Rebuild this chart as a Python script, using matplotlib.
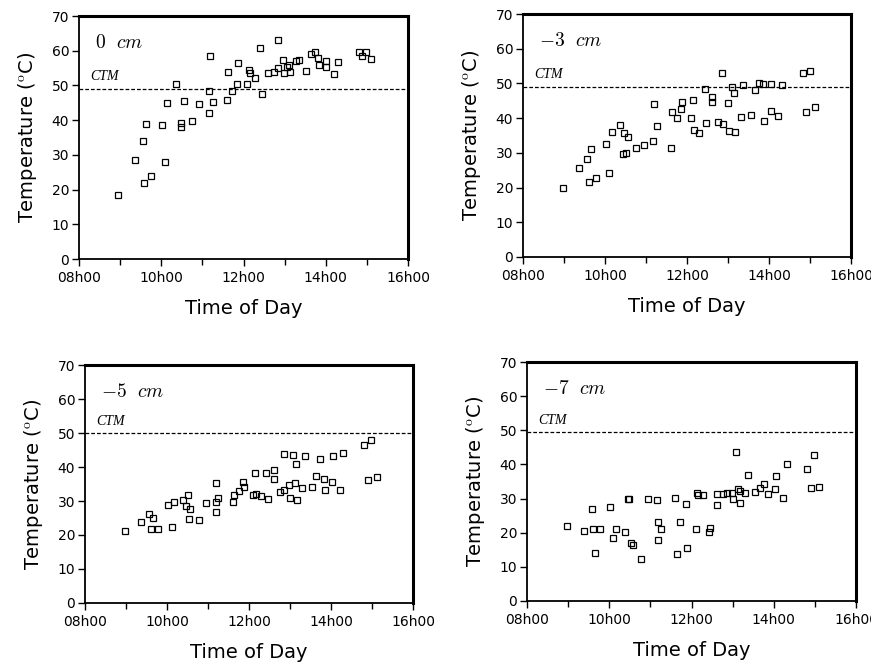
import matplotlib
matplotlib.use("Agg")
import matplotlib.pyplot as plt
from matplotlib.ticker import MultipleLocator

plt.rcParams['font.family'] = ['DejaVu Sans']
plt.rcParams['mathtext.fontset'] = 'cm'

# Tiefe 0 cm
t_0 = [8.96, 9.35, 9.55, 9.59, 9.63, 9.76, 10.02, 10.10, 10.14, 10.37, 10.47, 10.48,
       10.55, 10.75, 10.93, 11.16, 11.16, 11.18, 11.25, 11.59, 11.63, 11.73, 11.83, 11.86,
       12.08, 12.13, 12.15, 12.28, 12.40, 12.44, 12.59, 12.74, 12.83, 12.84, 12.96, 12.99,
       13.05, 13.11, 13.13, 13.27, 13.35, 13.52, 13.63, 13.74, 13.82, 13.84, 14.01, 14.01,
       14.20, 14.29, 14.80, 14.89, 14.97, 15.10]
T_0 = [18.4, 28.5, 34.1, 21.8, 38.8, 23.8, 38.5, 27.8, 44.9, 50.3, 39.3, 38.1,
       45.4, 39.7, 44.6, 42.1, 48.3, 58.4, 45.2, 45.7, 54.0, 48.4, 50.5, 56.5,
       50.3, 54.4, 53.6, 52.1, 60.7, 47.5, 53.7, 54.0, 63.2, 54.9, 57.4, 53.7,
       55.4, 55.9, 54.0, 57.1, 57.2, 54.1, 59.0, 59.6, 57.8, 55.9, 57.1, 55.4,
       53.4, 56.8, 59.5, 58.4, 59.5, 57.6]

# Tiefe -3 cm
t_3 = [8.98, 9.37, 9.57, 9.60, 9.65, 9.77, 10.03, 10.10, 10.16, 10.37, 10.45, 10.47,
       10.51, 10.56, 10.76, 10.94, 11.18, 11.19, 11.26, 11.61, 11.64, 11.75, 11.86, 11.88,
       12.09, 12.14, 12.17, 12.29, 12.43, 12.47, 12.62, 12.62, 12.76, 12.86, 12.87, 13.00,
       13.02, 13.10, 13.14, 13.17, 13.31, 13.37, 13.57, 13.66, 13.75, 13.86, 13.87, 14.04,
       14.06, 14.22, 14.32, 14.82, 14.90, 14.99, 15.11]
T_3 = [20.0, 25.6, 28.3, 21.6, 31.0, 22.7, 32.6, 24.3, 36.1, 37.9, 29.6, 35.6,
       30.1, 34.5, 31.4, 32.3, 33.4, 44.2, 37.6, 31.5, 41.9, 39.9, 42.6, 44.7,
       39.9, 45.2, 36.7, 35.6, 48.5, 38.6, 46.0, 44.6, 38.8, 53.0, 38.3, 44.4,
       36.2, 49.1, 47.3, 35.9, 40.2, 49.6, 41.0, 48.1, 50.1, 49.7, 39.3, 42.0,
       49.9, 40.7, 49.6, 52.9, 41.9, 53.6, 43.1]

# Tiefe -5 cm
t_5 = [8.97, 9.36, 9.56, 9.60, 9.66, 9.77, 10.03, 10.11, 10.18, 10.38, 10.46, 10.50,
       10.53, 10.56, 10.77, 10.94, 11.19, 11.19, 11.20, 11.25, 11.61, 11.63, 11.75, 11.86,
       11.88, 12.09, 12.14, 12.18, 12.29, 12.42, 12.46, 12.61, 12.61, 12.76, 12.85, 12.85,
       12.98, 13.01, 13.07, 13.11, 13.15, 13.16, 13.29, 13.36, 13.54, 13.64, 13.74, 13.84,
       13.85, 14.02, 14.04, 14.21, 14.30, 14.80, 14.90, 14.98, 15.11]
T_5 = [21.3, 23.7, 26.3, 21.7, 25.0, 21.7, 28.7, 22.4, 29.7, 30.3, 28.4, 31.7,
       24.7, 27.6, 24.5, 29.5, 26.7, 29.6, 35.2, 31.0, 29.7, 31.9, 33.0, 35.6,
       34.2, 31.8, 38.3, 32.0, 31.6, 38.1, 30.5, 39.1, 36.4, 32.6, 43.9, 33.1,
       34.7, 30.9, 43.5, 35.2, 40.9, 30.4, 33.9, 43.3, 34.2, 37.5, 42.3, 36.6,
       33.3, 35.7, 43.3, 33.1, 44.0, 46.5, 36.2, 47.9, 37.0]

# Tiefe -7 cm
t_7 = [8.98, 9.38, 9.58, 9.60, 9.66, 9.77, 10.02, 10.10, 10.16, 10.38, 10.45, 10.49,
       10.53, 10.57, 10.77, 10.95, 11.17, 11.19, 11.18, 11.26, 11.60, 11.64, 11.73, 11.86,
       11.88, 12.10, 12.14, 12.16, 12.29, 12.43, 12.46, 12.61, 12.62, 12.76, 12.87, 12.98,
       13.02, 13.08, 13.13, 13.17, 13.19, 13.30, 13.37, 13.55, 13.66, 13.76, 13.86, 14.04,
       14.05, 14.23, 14.32, 14.81, 14.90, 14.99, 15.11]
T_7 = [22.0, 20.5, 26.8, 21.0, 14.0, 21.1, 27.4, 18.5, 21.2, 20.1, 29.8, 30.0,
       16.9, 16.4, 12.2, 29.8, 29.7, 23.1, 17.8, 21.1, 30.1, 13.7, 23.2, 28.3,
       15.4, 21.1, 31.7, 31.0, 31.0, 20.1, 21.4, 28.2, 31.4, 31.2, 31.6, 31.6,
       29.9, 43.7, 32.7, 28.8, 32.3, 31.7, 37.0, 31.8, 33.0, 34.3, 31.2, 32.7,
       36.7, 30.1, 40.2, 38.7, 33.2, 42.9, 33.5]

depth_labels = [r'$\mathit{0}\ \ cm$', r'$-\mathit{3}\ \ cm$',
                r'$-\mathit{5}\ \ cm$', r'$-\mathit{7}\ \ cm$']
ctm_values = [49.0, 49.0, 50.0, 49.5]
x_ticks = [8, 10, 12, 14, 16]
x_ticklabels = ['08h00', '10h00', '12h00', '14h00', '16h00']

series = [(t_0, T_0), (t_3, T_3), (t_5, T_5), (t_7, T_7)]

W, H = 871, 669
fig = plt.figure(figsize=(W / 100, H / 100), dpi=100)

# Achsen in Pixelkoordinaten (links, oben, rechts, unten)
boxes = [(79, 16, 408, 259), (523, 14, 851, 257), (85, 365, 413, 603), (527, 362, 856, 601)]

for i, (l, t, r, b) in enumerate(boxes):
    ax = fig.add_axes([l / W, 1 - b / H, (r - l) / W, (b - t) / H])
    x, y = series[i]
    ax.plot(x, y, linestyle='none', marker='s', markersize=3.8, mfc='none',
            mec='black', mew=0.9)
    ax.axhline(ctm_values[i], color='black', lw=0.9, linestyle=(0, (3, 1.6)))
    ax.text(0.035, ctm_values[i] + 1.6, 'CTM', transform=ax.get_yaxis_transform(),
            fontsize=10, fontstyle='italic', family='Liberation Serif', va='bottom')
    ax.text(0.05, 0.93, depth_labels[i], transform=ax.transAxes, fontsize=14,
            va='top', ha='left')

    ax.set_xlim(8, 16)
    ax.set_ylim(0, 70)
    ax.set_xticks(x_ticks)
    ax.set_xticklabels(x_ticklabels)
    ax.xaxis.set_minor_locator(MultipleLocator(1))
    ax.yaxis.set_major_locator(MultipleLocator(10))
    ax.tick_params(axis='both', which='major', direction='out', length=5,
                   width=1, labelsize=10)
    ax.tick_params(axis='x', which='minor', direction='out', length=4, width=1)
    ax.tick_params(axis='y', pad=2)
    for side in ['top', 'right']:
        ax.spines[side].set_linewidth(2.2)
    for side in ['left', 'bottom']:
        ax.spines[side].set_linewidth(1.3)

    ax.set_ylabel('Temperature ($^{\\mathrm{o}}$C)', fontsize=14, labelpad=9)
    ax.set_xlabel('Time of Day', fontsize=14, labelpad=10)

fig.savefig('out.png', dpi=100)
